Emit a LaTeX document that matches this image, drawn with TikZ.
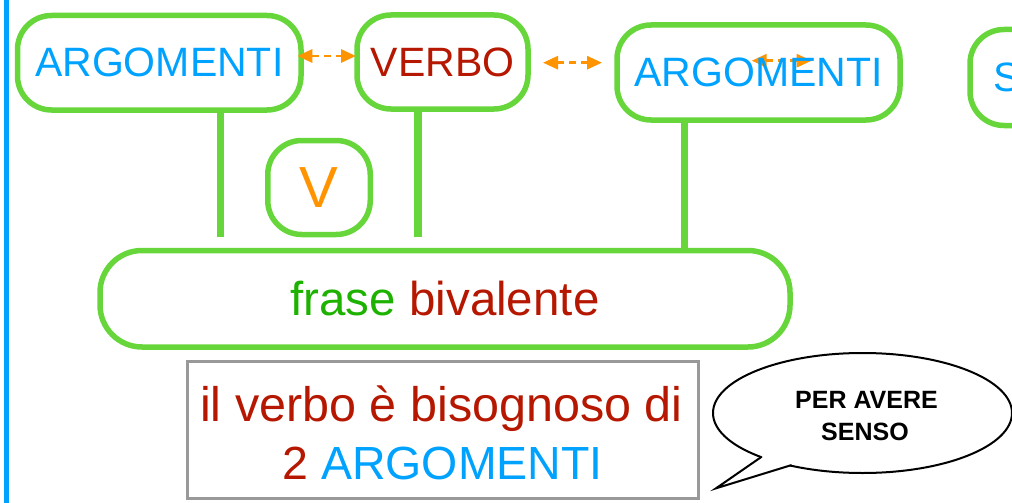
\documentclass[tikz,border=0pt]{standalone}
\usepackage{fontspec}
\setmainfont{Liberation Sans}
\usetikzlibrary{arrows.meta,shapes.geometric}
\definecolor{gborder}{HTML}{66D63A}
\definecolor{tblue}{HTML}{00A2FF}
\definecolor{tred}{HTML}{B51700}
\definecolor{torange}{HTML}{FF9300}
\definecolor{tgreen}{HTML}{1DB100}
\definecolor{gbox}{HTML}{999999}
\begin{document}
\begin{tikzpicture}[x=1pt,y=-1pt,
  gnode/.style={draw=gborder, line width=5.5pt, rounded corners=34pt, inner sep=0pt, outer sep=0pt, align=center},
  link/.style={draw=gborder, line width=7.3pt},
  oarrow/.style={draw=torange, line width=2.8pt, dash pattern=on 7pt off 5pt,
    {Triangle[length=15pt,width=13pt]}-{Triangle[length=15pt,width=13pt]}},
  fs/.style={font=\fontsize{#1}{#1}\selectfont},
  bubtext/.style={anchor=base, font=\fontsize{25}{30}\selectfont\bfseries, text=black, inner sep=0pt}
]
\useasboundingbox (0,0) rectangle (1012,503);
\clip (0,0) rectangle (1012,503);

% left blue rule
\coordinate (bt0) at (6,0);
\coordinate (bt1) at (6,503);
\draw[draw=tblue, line width=5pt] (bt0) -- (bt1);

% third small arrow (behind text)
\coordinate (c1) at (751.7,60.7);
\coordinate (c2) at (811.7,60.7);
\draw[oarrow] (c1) -- (c2);

% nodes
\node[gnode, minimum width=283.5pt, minimum height=94.5pt, text=tblue, fs=41] (a1) at (159.25,62.75) {ARGOMENTI};
\node[gnode, minimum width=171pt, minimum height=94pt, text=tred, fs=41] (vb) at (442.5,62) {VERBO};
\node[gnode, minimum width=283pt, minimum height=95pt, text=tblue, fs=41] (a2) at (758.5,72.5) {ARGOMENTI};
\node[gnode, anchor=west, minimum height=96pt, text width=150pt, inner xsep=23pt, align=left, text=tblue, fs=41] (s) at (970,77.5) {S};
\node[gnode, minimum width=102.5pt, minimum height=94pt, text=torange, fs=58] (v) at (319,187.5) {V};
\node[gnode, rounded corners=42pt, minimum width=690pt, minimum height=96.5pt, fs=47.5] (fb) at (445,298.75) {\textcolor{tgreen}{frase} \textcolor{tred}{bivalente}};

% links
\coordinate (l1) at (220.5,237);
\coordinate (l2) at (418,237);
\coordinate (l3) at (684.7,0);
\draw[link] (a1.south -| l1) -- (l1);
\draw[link] (vb.south -| l2) -- (l2);
\draw[link] (a2.south -| l3) -- (fb.north -| l3);

% gray box
\node[draw=gbox, line width=3pt, minimum width=510.5pt, minimum height=137pt, inner sep=0pt, outer sep=0pt] (box) at (442.75,430) {};
\node[anchor=base, inner sep=0pt, text=tred, fs=48.5] (t1) at (441.5,421) {il verbo è bisognoso di};
\node[anchor=base, inner sep=0pt, fs=46.5] (t2) at (442.5,479) {\textcolor{tred}{2} \textcolor{tblue}{ARGOMENTI}};

% speech bubble
\node[ellipse, draw=black, line width=2pt, fill=white, minimum width=299pt, minimum height=120pt, inner sep=0pt, outer sep=0pt] (bub) at (862.5,413) {};
\coordinate (j1) at (761.7,456.7);
\coordinate (tip) at (716,488.3);
\coordinate (j2) at (791.7,465);
\coordinate (j1i) at (765.4,455.1);
\coordinate (j2i) at (794.9,462.6);
\fill[white] (j1i) -- (j1) -- (tip) -- (j2) -- (j2i) -- cycle;
\draw[black, line width=2pt, line join=miter] (j1) -- (tip) -- (j2);
\node[bubtext] (b1) at (866.5,408) {PER AVERE};
\node[bubtext] (b2) at (865,440) {SENSO};

% orange arrows
\draw[oarrow] ([xshift=-3.7pt,yshift=6.75pt]a1.east) -- ([xshift=-1pt,yshift=6pt]vb.west);
\draw[oarrow] ([xshift=15pt,yshift=-0.7pt]vb.east) -- ([xshift=-15pt,yshift=9.8pt]a2.west);
\end{tikzpicture}
\end{document}
